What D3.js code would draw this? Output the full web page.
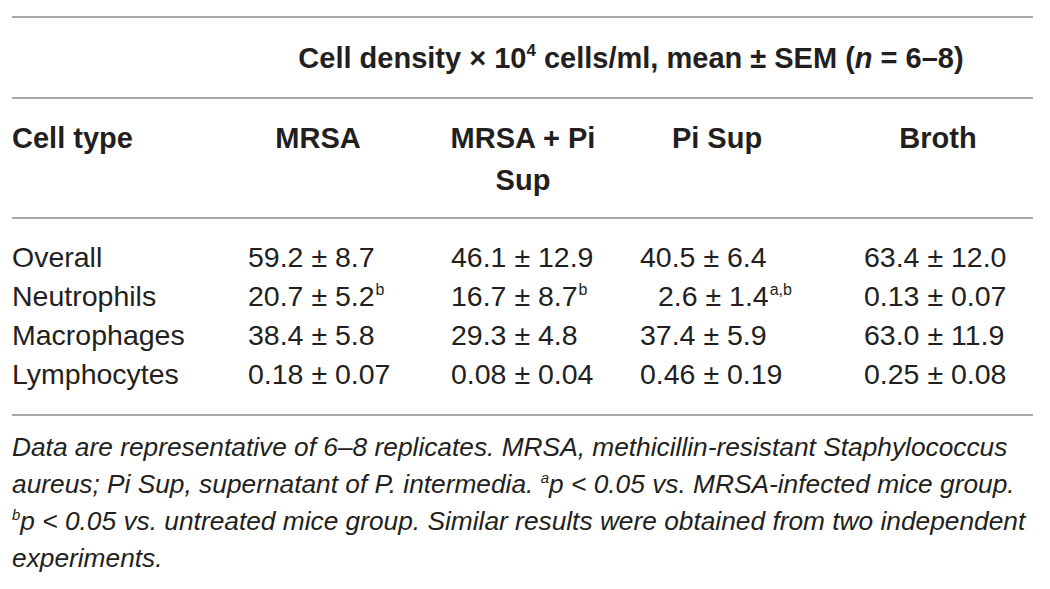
<!DOCTYPE html>
<html>
<head>
<meta charset="utf-8">
<script src="https://cdn.jsdelivr.net/npm/d3@7"></script>
<style>
  html, body { margin: 0; padding: 0; background: #fff; }
  svg { display: block; }
  text { fill: #231f20; font-family: "Liberation Sans", Arial, sans-serif; }
</style>
</head>
<body>
<svg id="chart" width="1050" height="589"></svg>
<script>
// ---- data ----
const headerTitle = ["Cell density × 10", "4", " cells/ml, mean ± SEM (", "n", " = 6–8)"];
const rowHeaderLabel = "Cell type";
const groups = [["MRSA"], ["MRSA + Pi", "Sup"], ["Pi Sup"], ["Broth"]];
const cellTypes = ["Overall", "Neutrophils", "Macrophages", "Lymphocytes"];
const meanMRSA   = ["59.2", "20.7", "38.4", "0.18"];
const semMRSA    = ["8.7", "5.2", "5.8", "0.07"];
const supMRSA    = ["", "b", "", ""];
const meanCombo  = ["46.1", "16.7", "29.3", "0.08"];
const semCombo   = ["12.9", "8.7", "4.8", "0.04"];
const supCombo   = ["", "b", "", ""];
const meanPiSup  = ["40.5", "2.6", "37.4", "0.46"];
const semPiSup   = ["6.4", "1.4", "5.9", "0.19"];
const supPiSup   = ["", "a,b", "", ""];
const meanBroth  = ["63.4", "0.13", "63.0", "0.25"];
const semBroth   = ["12.0", "0.07", "11.9", "0.08"];
const supBroth   = ["", "", "", ""];
const footnote = [
  [["Data are representative of 6–8 replicates. MRSA, methicillin-resistant Staphylococcus", false]],
  [["aureus; Pi Sup, supernatant of P. intermedia. ", false], ["a", true], ["p < 0.05 vs. MRSA-infected mice group.", false]],
  [["b", true], ["p < 0.05 vs. untreated mice group. Similar results were obtained from two independent", false]],
  [["experiments.", false]]
];

const series = [
  { mean: meanMRSA, sem: semMRSA, sup: supMRSA },
  { mean: meanCombo, sem: semCombo, sup: supCombo },
  { mean: meanPiSup, sem: semPiSup, sup: supPiSup },
  { mean: meanBroth, sem: semBroth, sup: supBroth }
];

// ---- layout ----
const svg = d3.select("#chart");
const left = 12, right = 1033;
const rulesY = [17, 98, 218, 415];
const colCenter = [318, 523, 717, 938];
const colLeft = [248, 451, 640, 864];
const fsBold = 29, fsBody = 28.5;

const rowY = d3.scaleLinear().domain([0, cellTypes.length - 1]).range([267, 384]);
const footY = d3.scaleLinear().domain([0, footnote.length - 1]).range([456, 567]);

// rules
svg.append("g").selectAll("line").data(rulesY).join("line")
  .attr("x1", left).attr("x2", right)
  .attr("y1", d => d).attr("y2", d => d)
  .attr("stroke", "#a9a9a9").attr("stroke-width", 2);

// spanning header
const ht = svg.append("text")
  .attr("x", 631).attr("y", 68)
  .attr("text-anchor", "middle")
  .attr("font-weight", "bold")
  .attr("font-size", fsBold);
headerTitle.forEach((s, i) => {
  const t = ht.append("tspan").text(s);
  if (i === 1) t.attr("font-size", 17).attr("dy", -12);
  if (i === 2) t.attr("dy", 12);
  if (i === 3) t.attr("font-style", "italic");
});

// column header
svg.append("text")
  .attr("x", left).attr("y", 148)
  .attr("font-weight", "bold").attr("font-size", fsBold)
  .text(rowHeaderLabel);

svg.append("g").selectAll("text").data(groups).join("text")
  .attr("x", (d, i) => colCenter[i])
  .attr("y", 148)
  .attr("text-anchor", "middle")
  .attr("font-weight", "bold").attr("font-size", fsBold)
  .each(function(d, i) {
    d3.select(this).selectAll("tspan").data(d).join("tspan")
      .attr("x", colCenter[i])
      .attr("dy", (s, j) => j === 0 ? 0 : 42)
      .text(s => s);
  });

// row labels
svg.append("g").selectAll("text").data(cellTypes).join("text")
  .attr("x", left)
  .attr("y", (d, i) => rowY(i))
  .attr("font-size", fsBody)
  .text(d => d);

// cells
series.forEach((s, c) => {
  svg.append("g").selectAll("text").data(s.mean).join("text")
    .attr("x", (d, r) => colLeft[c] + (c === 2 && r === 1 ? 18 : 0))
    .attr("y", (d, r) => rowY(r))
    .attr("font-size", fsBody)
    .each(function(d, r) {
      const t = d3.select(this);
      t.append("tspan").text(d + " ± " + s.sem[r]);
      if (s.sup[r]) {
        t.append("tspan").attr("font-size", 16).attr("dy", -11).attr("dx", 1).text(s.sup[r]);
      }
    });
});

// footnote
const foot = svg.append("g").attr("font-style", "italic").attr("font-size", 26.3);
footnote.forEach((line, i) => {
  const t = foot.append("text").attr("x", left).attr("y", footY(i));
  let raised = false;
  line.forEach(([s, isSup]) => {
    const sp = t.append("tspan").text(s);
    if (isSup) { sp.attr("font-size", 15).attr("dy", -10); raised = true; }
    else if (raised) { sp.attr("dy", 10); raised = false; }
  });
});
</script>
</body>
</html>
